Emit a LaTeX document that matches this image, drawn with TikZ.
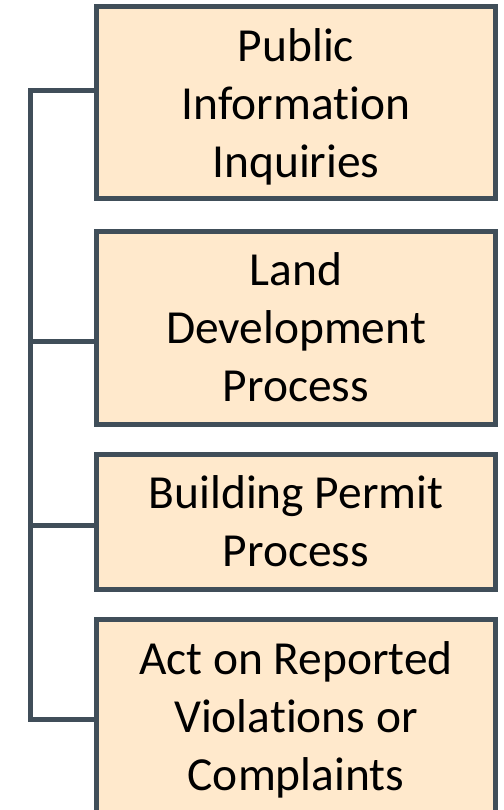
\documentclass[tikz,border=0pt]{standalone}
\usepackage{fontspec}
\setmainfont{Carlito}[Ligatures=NoCommon]
\usetikzlibrary{positioning,calc}

\definecolor{boxfill}{RGB}{255,233,204}
\definecolor{boxline}{RGB}{64,78,89}

\begin{document}
\begin{tikzpicture}[
    task/.style={draw=boxline, fill=boxfill, line width=0.1cm, minimum width=7.98cm,
        inner sep=0pt, align=center, text depth=0pt, font=\fontsize{27}{33}\selectfont},
    link/.style={draw=boxline, line width=0.1cm}
]
    \useasboundingbox (0,0) rectangle (10.08,-16.2);

    % Task boxes
    \node[task, minimum height=3.83cm] (pub) at (5.92,-2.055) {Public\\Information\\Inquiries};
    \node[task, minimum height=3.86cm] (land) at (5.92,-6.55) {Land\\Development\\Process};
    \node[task, minimum height=2.70cm] (permit) at (5.92,-10.43) {Building Permit\\Process};
    \node[task, minimum height=3.86cm] (act) at (5.92,-14.32) {Act on Reported\\Violations or\\Complaints};

    % Bracket on the left
    \coordinate (s1) at (0.6,-1.81);
    \coordinate (s2) at (0.6,-6.82);
    \coordinate (s3) at (0.6,-10.5);
    \coordinate (s4) at (0.6,-14.39);
    \draw[link] (s1 -| pub.west) -- (s1) -- (s4) -- (s4 -| act.west);
    \draw[link] (s2) -- (s2 -| land.west);
    \draw[link] (s3) -- (s3 -| permit.west);
\end{tikzpicture}
\end{document}
